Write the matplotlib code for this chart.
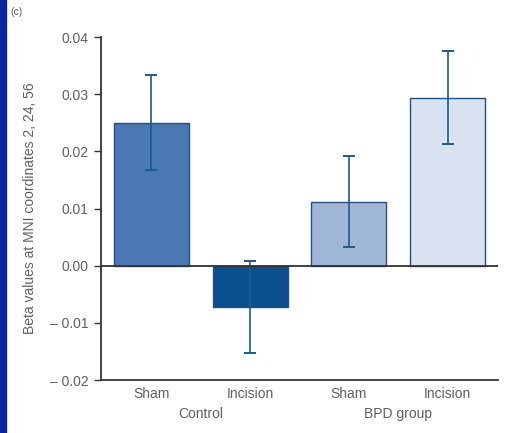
import matplotlib.pyplot as plt
import matplotlib.patches as mpatches

plt.rcParams['font.family'] = ['Liberation Sans Narrow', 'Liberation Sans', 'DejaVu Sans']

# data
conditions = ['Sham', 'Incision', 'Sham', 'Incision']
groups = ['Control', 'BPD group']
means = [0.0250, -0.0072, 0.0112, 0.0294]
errors = [0.0083, 0.0081, 0.0080, 0.0082]
yticks = [0.04, 0.03, 0.02, 0.01, 0.00, -0.01, -0.02]
ytick_labels = ['0.04', '0.03', '0.02', '0.01', '0.00', '\u2013 0.01', '\u2013 0.02']

colors = ['#4a78b2', '#0c4f8e', '#9fb6d6', '#d8e2f0']
edge = '#24507e'
txt = '#606060'
fs = 10

fig = plt.figure(figsize=(5.2, 4.33), dpi=100)
ax = fig.add_axes([0.194, 0.1224, 0.764, 0.7921])

x = range(len(means))
ax.bar(x, means, width=0.76, color=colors, edgecolor=edge, linewidth=1.0, zorder=2)
ax.errorbar(x, means, yerr=errors, fmt='none', ecolor='#1d5a8c',
            elinewidth=1.2, capsize=4, capthick=1.4, zorder=3)

ax.axhline(0, color='#333333', linewidth=1.3, zorder=4)
ax.set_xlim(-0.51, 3.51)
ax.set_ylim(-0.02, 0.04)

ax.set_yticks(yticks)
ax.set_yticklabels(ytick_labels, fontsize=fs, color=txt)
ax.tick_params(axis='y', direction='out', length=5, width=1, color='#333333', pad=4)
ax.set_xticks([])

for s in ['top', 'right']:
    ax.spines[s].set_visible(False)
for s in ['left', 'bottom']:
    ax.spines[s].set_color('#333333')
    ax.spines[s].set_linewidth(1.3)

ax.set_ylabel('Beta values at MNI coordinates 2, 24, 56', fontsize=fs, color=txt, labelpad=9)

# category and group labels below the axis
for i, c in enumerate(conditions):
    ax.text(i, -0.0213, c, ha='center', va='top', fontsize=fs, color=txt)
for i, g in enumerate(groups):
    ax.text(2 * i + 0.5, -0.0247, g, ha='center', va='top', fontsize=fs, color=txt)

fig.text(0.019, 0.983, '(c)', fontsize=7.5, color=txt, va='top')

# blue strip on the left edge
fig.patches.append(mpatches.Rectangle((0, 0), 5.5 / 520, 1, transform=fig.transFigure,
                                      color='#0a24a0', zorder=10))

fig.savefig('out.png', dpi=100)
